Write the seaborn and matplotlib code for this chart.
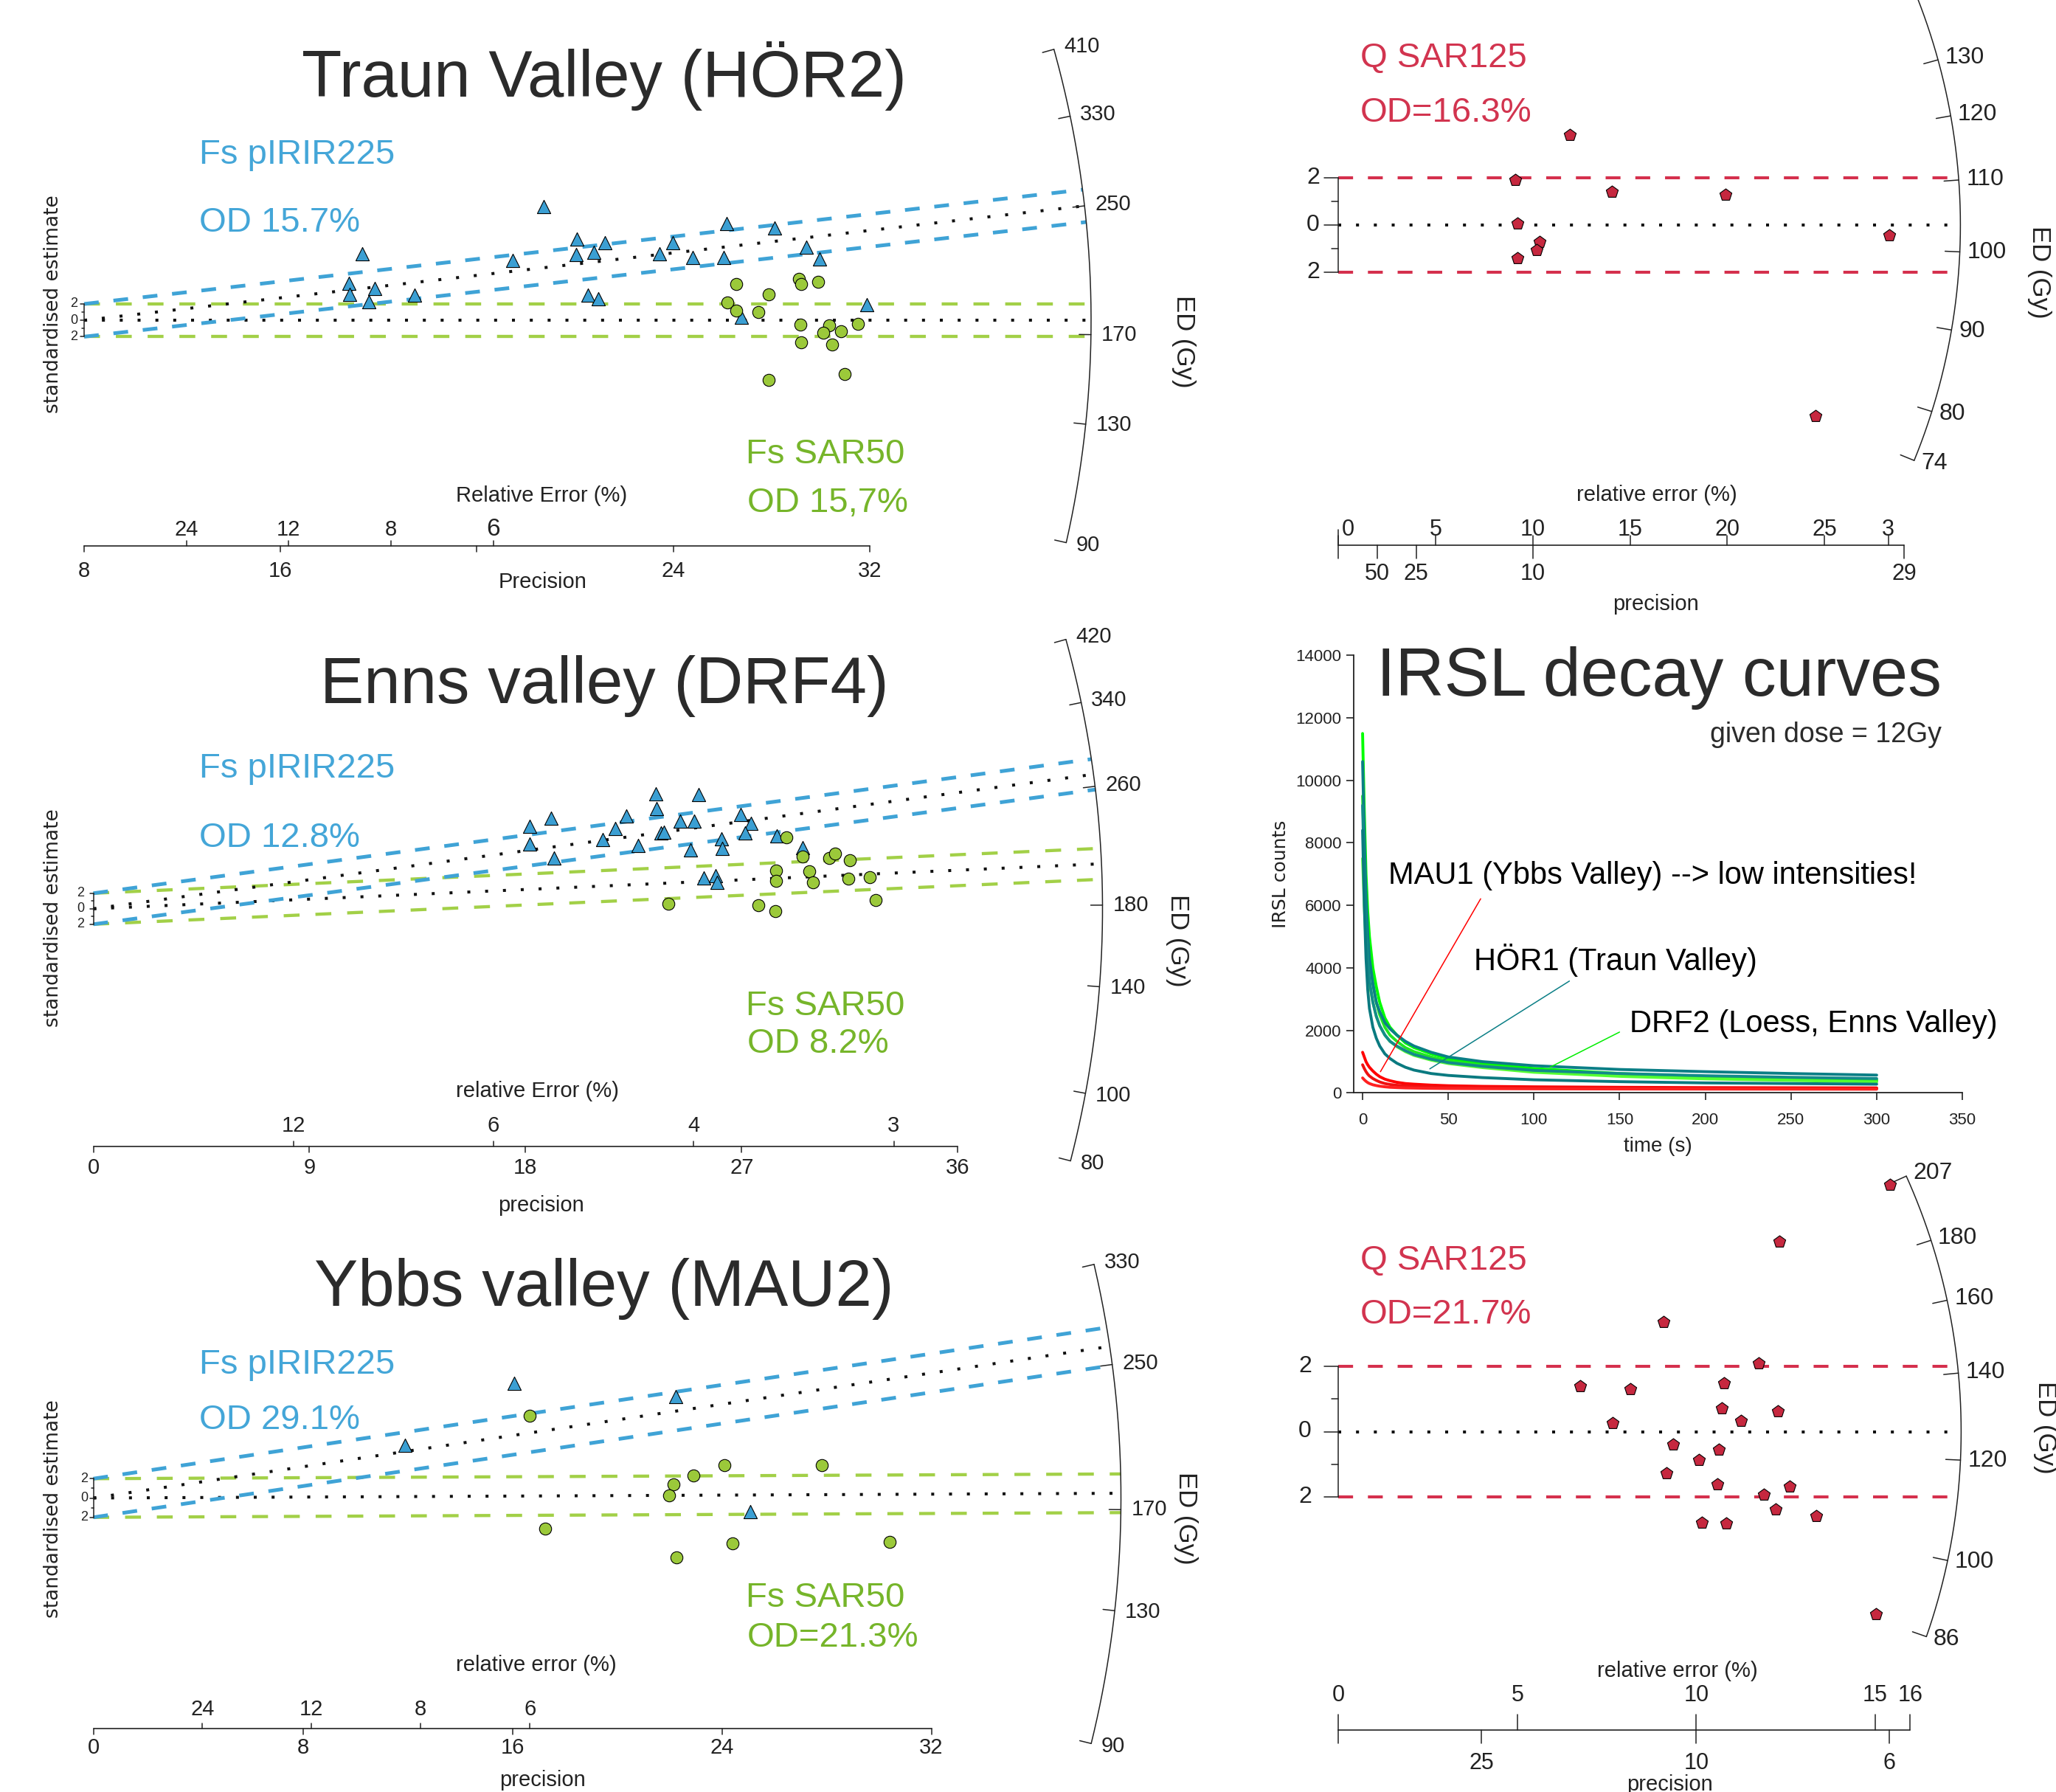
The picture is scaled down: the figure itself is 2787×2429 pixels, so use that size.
import numpy as np
import pandas as pd
import matplotlib.pyplot as plt
import seaborn as sns

sns.set_style('white')
plt.rcParams['font.family'] = ['Liberation Sans', 'DejaVu Sans']

# ------------------------------------------------------------------ data
# radial plots: x = precision, y = standardised estimate

# Traun Valley (HÖR2)
hor2_ir_prec = [18.71, 11.32, 26.18, 28.13, 20.08, 21.21, 23.99, 29.43, 17.47, 20.03, 20.75, 23.45,
                24.80, 26.06, 29.95, 10.80, 10.83, 11.84, 13.47, 11.60, 20.52, 20.95, 31.87, 26.78]
hor2_ir_z = [13.86, 8.17, 11.86, 11.27, 9.89, 9.45, 9.45, 8.97, 7.32, 8.00, 8.28, 8.17,
             7.72, 7.66, 7.48, 4.55, 3.18, 3.87, 3.10, 2.31, 3.10, 2.59, 1.90, 0.42]
hor2_sar_prec = [26.55, 29.11, 29.20, 29.89, 27.87, 26.21, 26.55, 27.45, 29.17, 30.35, 31.52, 30.11,
                 30.83, 29.22, 30.46, 27.87, 30.98]
hor2_sar_z = [4.45, 5.06, 4.45, 4.72, 3.18, 2.21, 1.21, 1.04, -0.55, -0.62, -0.45, -1.55,
              -1.30, -2.69, -2.93, -7.24, -6.59]
hor2_ed_ticks = [410, 330, 250, 170, 130, 90]
hor2_ed_ir, hor2_ed_sar = 250, 177.4

# Enns valley (DRF4)
enns_ir_prec = [23.42, 25.21, 23.45, 19.06, 22.20, 26.96, 18.18, 24.45, 25.02, 27.40, 21.73, 23.64, 23.76,
                27.15, 28.47, 18.18, 21.22, 22.70, 26.15, 26.18, 24.86, 29.53, 19.19, 25.43, 25.90, 25.99]
enns_ir_z = [14.85, 14.76, 12.93, 11.74, 12.00, 12.21, 10.60, 11.36, 11.36, 11.02, 10.38, 9.79, 9.91,
             9.79, 9.41, 8.39, 8.90, 8.13, 9.02, 7.83, 7.62, 7.91, 6.56, 4.01, 4.30, 3.37]
enns_sar_prec = [28.87, 29.53, 30.66, 30.88, 31.51, 28.43, 29.81, 28.43, 29.97, 31.44, 32.35, 23.95,
                 27.71, 28.40, 32.57]
enns_sar_z = [9.24, 6.72, 6.56, 7.11, 6.26, 4.98, 4.86, 3.62, 3.37, 3.88, 4.10, 0.69, 0.48, -0.29, 1.11]
enns_ed_ticks = [420, 340, 260, 180, 140, 100, 80]
enns_ed_ir, enns_ed_sar = 270, 204.4

# Ybbs valley (MAU2)
mau2_ir_prec = [16.07, 22.25, 11.90, 25.09]
mau2_ir_z = [11.89, 10.50, 5.44, -1.40]
mau2_sar_prec = [16.67, 24.09, 27.83, 22.91, 22.16, 21.99, 17.25, 24.41, 30.41, 22.28]
mau2_sar_z = [8.52, 3.43, 3.40, 2.34, 1.44, 0.25, -3.15, -4.67, -4.54, -6.16]
mau2_ed_ticks = [330, 250, 170, 130, 90]
mau2_ed_ir, mau2_ed_sar = 262.6, 177.5

# Q SAR125 (upper right)
qa_prec = [11.89, 9.10, 14.08, 19.92, 9.21, 28.34, 10.34, 10.19, 9.21, 24.53]
qa_z = [3.81, 1.92, 1.41, 1.29, 0.08, -0.42, -0.71, -1.05, -1.39, -8.08]
qa_ed_ticks = [130, 120, 110, 100, 90, 80, 74]

# Q SAR125 (lower right)
qb_prec = [15.41, 12.33, 9.08, 11.75, 6.75, 8.15, 10.78, 10.71, 12.29, 11.24, 7.66, 9.36, 10.64, 10.08,
           9.16, 10.58, 12.62, 11.89, 12.22, 13.35, 10.15, 10.84, 15.02]
qb_z = [7.58, 5.85, 3.36, 2.10, 1.39, 1.30, 1.49, 0.72, 0.63, 0.32, 0.26, -0.40, -0.55, -0.88,
        -1.28, -1.63, -1.68, -1.93, -2.39, -2.59, -2.80, -2.82, -5.61]
qb_ed_ticks = [207, 180, 160, 140, 120, 100, 86]

# IRSL decay curves
decay_time = [0, 1, 2, 3, 4, 6, 8, 10, 13, 16, 20, 25, 30, 40, 50, 70, 100, 150, 200, 250, 300]
drf2_a = [11500, 9000, 7000, 5800, 5000, 4000, 3400, 2900, 2400, 2100, 1850, 1600, 1450, 1250, 1100, 950, 780, 620, 520, 460, 420]
drf2_b = [9500, 7600, 6000, 5000, 4300, 3500, 2900, 2500, 2100, 1850, 1650, 1450, 1320, 1150, 1020, 880, 720, 580, 490, 430, 380]
drf2_c = [7500, 6000, 4800, 4000, 3500, 2900, 2450, 2150, 1850, 1650, 1480, 1320, 1200, 1050, 940, 810, 660, 530, 450, 400, 350]
hor1_a = [10600, 8200, 6300, 5100, 4300, 3500, 2900, 2600, 2250, 2050, 1850, 1650, 1500, 1300, 1150, 1000, 870, 750, 680, 620, 570]
hor1_b = [9200, 7000, 5300, 4300, 3600, 2900, 2450, 2150, 1850, 1650, 1500, 1350, 1230, 1080, 970, 850, 720, 620, 550, 500, 460]
hor1_c = [8400, 6000, 4300, 3300, 2700, 2100, 1750, 1500, 1250, 1100, 950, 820, 730, 620, 560, 490, 420, 360, 320, 300, 280]
mau1_a = [1300, 1150, 1000, 900, 820, 700, 600, 520, 440, 390, 340, 300, 280, 250, 230, 210, 195, 180, 170, 165, 160]
mau1_b = [900, 780, 680, 600, 540, 460, 400, 350, 300, 270, 245, 225, 210, 195, 185, 175, 165, 155, 150, 145, 140]
mau1_c = [480, 420, 370, 330, 300, 260, 235, 215, 195, 180, 170, 160, 155, 145, 140, 135, 130, 125, 122, 120, 118]

# ------------------------------------------------------------------ style
BLUE_L, BLUE_F, BLUE_T = '#3fa3d6', '#3b9fd3', '#44a6d8'
GREEN_L, GREEN_F, GREEN_T = '#a2d047', '#9bc93a', '#76b52a'
RED_L, RED_F, RED_T = '#d5304d', '#c6283f', '#d2344f'
INK = '#222222'
TITLE = '#2b2b2b'

W, H = 2787, 2429
fig = plt.figure(figsize=(W / 100, H / 100), dpi=100)


def ftext(x, y, s, **kw):
    fig.text(x / W, 1 - y / H, s, **kw)


class Radial:
    def __init__(self, box, origin, ux, uy, R, ed0):
        self.ox, self.oy = origin
        self.ux, self.uy, self.R, self.ed0 = ux, uy, R, ed0
        l, t, r, b = box
        self.ax = fig.add_axes([l / W, 1 - b / H, (r - l) / W, (b - t) / H])
        self.ax.set_xlim((l - self.ox) / ux, (r - self.ox) / ux)
        self.ax.set_ylim((self.oy - b) / uy, (self.oy - t) / uy)
        self.ax.axis('off')

    def xd(self, xpx):
        return (xpx - self.ox) / self.ux

    def yd(self, ypx):
        return (self.oy - ypx) / self.uy

    def theta(self, ed):
        return np.arctan2(np.log(ed / self.ed0) * self.uy, self.ux)

    def polar(self, th, r):
        return r * np.cos(th) / self.ux, r * np.sin(th) / self.uy

    def line(self, ed, off, **kw):
        m = np.log(ed / self.ed0)
        a = self.ux ** 2 + (self.uy * m) ** 2
        b = 2 * self.uy ** 2 * m * off
        c = (self.uy * off) ** 2 - self.R ** 2
        xe = (-b + np.sqrt(b * b - 4 * a * c)) / (2 * a)
        x = np.array([0, xe])
        self.ax.plot(x, m * x + off, **kw)

    def band(self, ed, color, lw, dashes):
        self.line(ed, 2, color=color, lw=lw, dashes=dashes, zorder=2)
        self.line(ed, -2, color=color, lw=lw, dashes=dashes, zorder=2)
        self.line(ed, 0, color='#111111', lw=2.9, ls=(0, (1, 5)), zorder=2)

    def arc(self, ticks, ed_lo, ed_hi, fs, tick_len=16, lab_off=14):
        th = np.linspace(self.theta(ed_lo), self.theta(ed_hi), 300)
        x, y = self.polar(th, self.R)
        self.ax.plot(x, y, color=INK, lw=1.1, clip_on=True)
        for e in ticks:
            t = self.theta(e)
            x0, y0 = self.polar(t, self.R)
            x1, y1 = self.polar(t, self.R - tick_len)
            self.ax.plot([x0, x1], [y0, y1], color=INK, lw=1.1)
            xl, yl = self.polar(t, self.R + lab_off)
            self.ax.text(xl, yl, str(e), ha='left', va='center', fontsize=fs, color=INK)

    def zaxis(self, labx, fs, major, minor):
        self.ax.plot([0, 0], [-2, 2], color=INK, lw=1.1)
        for v in [-2, -1, 0, 1, 2]:
            L = major if v % 2 == 0 else minor
            self.ax.plot([0, -L / self.ux], [v, v], color=INK, lw=1.1)
        for v in (2, 0, -2):
            self.ax.text(self.xd(labx), v, str(abs(v)), ha='center', va='center', fontsize=fs, color=INK)

    def xaxis(self, ypx, x_end, low_pos, low_lab, low_y, up_pos, up_lab, up_y, fs,
              low_len=8, up_len=7, up_fs=None):
        y = self.yd(ypx)
        self.ax.plot([0, x_end], [y, y], color=INK, lw=1.2)
        for p in low_pos:
            self.ax.plot([p, p], [y, y - low_len / self.uy], color=INK, lw=1.1)
        for p in up_pos:
            self.ax.plot([p, p], [y, y + up_len / self.uy], color=INK, lw=1.1)
        for p, s in zip(low_pos, low_lab):
            self.ax.text(p, self.yd(low_y), s, ha='center', va='center', fontsize=fs, color=INK)
        for i, (p, s) in enumerate(zip(up_pos, up_lab)):
            f = up_fs[i] if up_fs else fs
            self.ax.text(p, self.yd(up_y), s, ha='center', va='center', fontsize=f, color=INK)


def scatter(p, x, y, marker, color, s):
    sns.scatterplot(x=x, y=y, ax=p.ax, marker=marker, s=s, color=color,
                    edgecolor='black', linewidth=0.8, zorder=4, legend=False)
    p.ax.set_xlabel('')
    p.ax.set_ylabel('')


def fs_bands(p, ed_sar, ed_ir):
    p.band(ed_sar, GREEN_L, lw=3.1, dashes=(5, 5))
    p.band(ed_ir, BLUE_L, lw=3.6, dashes=(4, 4))


def left_labels(yc, title, title_y, ir_od, ir_y, sar_od, sar_y, ed_y, ed_x=1605):
    ftext(819, title_y, title, ha='center', va='center', fontsize=64, color=TITLE)
    ftext(270, ir_y[0], 'Fs pIRIR225', ha='left', va='center', fontsize=34, color=BLUE_T)
    ftext(270, ir_y[1], ir_od, ha='left', va='center', fontsize=34, color=BLUE_T)
    ftext(1011, sar_y[0], 'Fs SAR50', ha='left', va='center', fontsize=34, color=GREEN_T)
    ftext(1013, sar_y[1], sar_od, ha='left', va='center', fontsize=34, color=GREEN_T)
    ftext(72, yc, 'standardised estimate', rotation=90, ha='center', va='center',
          fontsize=19, family='DejaVu Sans', color=INK)
    ftext(ed_x, ed_y, 'ED (Gy)', rotation=-90, ha='center', va='center', fontsize=25, color=INK)


# ------------------------------------------------------------------ Traun Valley (HÖR2)
p1 = Radial((0, 0, 1700, 820), (114, 434.2), 33.28, 11.1, 1365, 177.4)
fs_bands(p1, hor2_ed_sar, hor2_ed_ir)
scatter(p1, hor2_ir_prec, hor2_ir_z, '^', BLUE_F, 170)
scatter(p1, hor2_sar_prec, hor2_sar_z, 'o', GREEN_F, 140)
p1.arc(hor2_ed_ticks, 90, 410, 21)
p1.zaxis(100, 13, 5, 3)
p1.xaxis(739.5, 32, [0, 8, 16, 24, 32], ['8', '16', '', '24', '32'], 774,
         [100 / 24, 100 / 12, 100 / 8, 100 / 6], ['24', '12', '8', '6'], 718, 21,
         up_fs=[21, 21, 21, 24])
ftext(734, 672, 'Relative Error (%)', ha='center', va='center', fontsize=21, color=INK)
ftext(736, 789, 'Precision', ha='center', va='center', fontsize=21, color=INK)
left_labels(412, 'Traun Valley (HÖR2)', 103, 'OD 15.7%', (210, 302), 'OD 15,7%', (616, 682), 463)

# ------------------------------------------------------------------ Enns valley (DRF4)
p2 = Radial((0, 820, 1700, 1660), (126.5, 1231.8), 32.55, 10.5, 1368, 178)
fs_bands(p2, enns_ed_sar, enns_ed_ir)
scatter(p2, enns_ir_prec, enns_ir_z, '^', BLUE_F, 170)
scatter(p2, enns_sar_prec, enns_sar_z, 'o', GREEN_F, 140)
p2.arc(enns_ed_ticks, 80, 420, 21)
p2.zaxis(109, 13, 5, 3)
p2.xaxis(1553.6, 36, [0, 9, 18, 27, 36], ['0', '9', '18', '27', '36'], 1583,
         [100 / 12, 100 / 6, 100 / 4, 100 / 3], ['12', '6', '4', '3'], 1526, 21)
ftext(728, 1479, 'relative Error (%)', ha='center', va='center', fontsize=21, color=INK)
ftext(733, 1634, 'precision', ha='center', va='center', fontsize=21, color=INK)
left_labels(1244, 'Enns valley (DRF4)', 930, 'OD 12.8%', (1042, 1136), 'OD 8.2%', (1364, 1415), 1275,
            ed_x=1597)

# ------------------------------------------------------------------ Ybbs valley (MAU2)
p3 = Radial((0, 1660, 1700, 2429), (126.5, 2030.5), 35.5, 13.1, 1393, 175.3)
fs_bands(p3, mau2_ed_sar, mau2_ed_ir)
scatter(p3, mau2_ir_prec, mau2_ir_z, '^', BLUE_F, 170)
scatter(p3, mau2_sar_prec, mau2_sar_z, 'o', GREEN_F, 140)
p3.arc(mau2_ed_ticks, 90, 330, 21)
p3.zaxis(114, 13, 5, 3)
p3.xaxis(2342.5, 32, [0, 8, 16, 24, 32], ['0', '8', '16', '24', '32'], 2369,
         [100 / 24, 100 / 12, 100 / 8, 100 / 6], ['24', '12', '8', '6'], 2317, 21)
ftext(727, 2257, 'relative error (%)', ha='center', va='center', fontsize=21, color=INK)
ftext(735, 2413, 'precision', ha='center', va='center', fontsize=21, color=INK)
left_labels(2045, 'Ybbs valley (MAU2)', 1747, 'OD 29.1%', (1850, 1925), 'OD=21.3%', (2166, 2220), 2058,
            ed_x=1607)

# ------------------------------------------------------------------ Q SAR125 (top right)
p4 = Radial((1700, 0, 2787, 850), (1814.4, 305.2), 26.34, 32.0, 843, 103.6)
p4.band(103.6, RED_L, lw=2.9, dashes=(5, 5))
scatter(p4, qa_prec, qa_z, 'p', RED_F, 150)
p4.arc(qa_ed_ticks, 74, 170, 23, tick_len=20, lab_off=10)
p4.zaxis(1780, 23, 19, 9)
p4.xaxis(738.9, 29.1, [0, 2, 4, 10, 29.1], ['', '50', '25', '10', '29'], 778,
         [0, 5, 10, 15, 20, 25, 28.3], ['', '5', '10', '15', '20', '25', '3'], 718, 22,
         low_len=18, up_len=13)
p4.ax.text(0.5, p4.yd(718), '0', ha='center', va='center', fontsize=22, color=INK)
p4.ax.plot([0, 0], [p4.yd(738.9), p4.yd(718)], color=INK, lw=1.1)
ftext(2246, 671, 'relative error (%)', ha='center', va='center', fontsize=21, color=INK)
ftext(2244, 819, 'precision', ha='center', va='center', fontsize=21, color=INK)
ftext(1844, 79, 'Q SAR125', ha='left', va='center', fontsize=34, color=RED_T)
ftext(1844, 153, 'OD=16.3%', ha='left', va='center', fontsize=34, color=RED_T)
ftext(2764, 369, 'ED (Gy)', rotation=-90, ha='center', va='center', fontsize=25, color=INK)

# ------------------------------------------------------------------ Q SAR125 (bottom right)
p6 = Radial((1700, 1560, 2787, 2429), (1814.4, 1940.5), 48.5, 44.1, 844, 126.2)
p6.band(126.2, RED_L, lw=2.9, dashes=(5, 5))
scatter(p6, qb_prec, qb_z, 'p', RED_F, 150)
p6.arc(qb_ed_ticks, 86, 207, 23, tick_len=20, lab_off=10)
p6.zaxis(1769, 23, 19, 9)
p6.xaxis(2344.5, 15.98, [0, 4, 10, 15.4], ['', '25', '10', '6'], 2390,
         [0, 5, 10, 15, 15.98], ['0', '5', '10', '15', '16'], 2298, 22,
         low_len=18, up_len=21)
ftext(2274, 2265, 'relative error (%)', ha='center', va='center', fontsize=21, color=INK)
ftext(2263, 2419, 'precision', ha='center', va='center', fontsize=21, color=INK)
ftext(1844, 1709, 'Q SAR125', ha='left', va='center', fontsize=34, color=RED_T)
ftext(1844, 1782, 'OD=21.7%', ha='left', va='center', fontsize=34, color=RED_T)
ftext(2772, 1935, 'ED (Gy)', rotation=-90, ha='center', va='center', fontsize=25, color=INK)

# ------------------------------------------------------------------ IRSL decay curves
curves = {
    'DRF2 a': (drf2_a, '#00ff00'), 'DRF2 b': (drf2_b, '#22e622'), 'DRF2 c': (drf2_c, '#55ff33'),
    'HÖR1 a': (hor1_a, '#0b7f86'), 'HÖR1 b': (hor1_b, '#138a8a'), 'HÖR1 c': (hor1_c, '#0a7a80'),
    'MAU1 a': (mau1_a, '#ff0000'), 'MAU1 b': (mau1_b, '#ee1111'), 'MAU1 c': (mau1_c, '#ff2020'),
}
df = pd.DataFrame([(name, t, v) for name, (vals, _) in curves.items()
                   for t, v in zip(decay_time, vals)], columns=['curve', 'time', 'counts'])
x0, x1, y0, y1 = 1835.2, 2660.1, 888.3, 1481.4
ax5 = fig.add_axes([x0 / W, 1 - y1 / H, (x1 - x0) / W, (y1 - y0) / H])
sns.lineplot(data=df, x='time', y='counts', hue='curve', palette={k: c for k, (_, c) in curves.items()},
             estimator=None, sort=False, lw=2.8, legend=False, ax=ax5)
ax5.set_xlim(-5.1, 350)
ax5.set_ylim(0, 14000)
ax5.set_xticks(range(0, 351, 50))
ax5.set_yticks(range(0, 14001, 2000))
for s in ('top', 'right'):
    ax5.spines[s].set_visible(False)
for s in ('left', 'bottom'):
    ax5.spines[s].set_color(INK)
    ax5.spines[s].set_linewidth(1.3)
ax5.tick_params(direction='out', length=7, width=1.2, colors=INK, labelsize=16, bottom=True, left=True)
ax5.tick_params(axis='x', pad=12)
ax5.tick_params(axis='y', pad=5)
ax5.set_xlabel('time (s)', fontsize=20, color=INK, labelpad=9)
ax5.set_ylabel('IRSL counts', fontsize=18, color=INK, family='DejaVu Sans', labelpad=6)
ax5.patch.set_alpha(0)
ax5.annotate('', xy=(9.8, 621), xytext=(69.5, 6268), arrowprops=dict(arrowstyle='-', color='#ff0000', lw=1.1))
ax5.annotate('', xy=(38.2, 734), xytext=(121.7, 3614), arrowprops=dict(arrowstyle='-', color='#0b7f86', lw=1.1))
ax5.annotate('', xy=(108.3, 791), xytext=(151, 1976), arrowprops=dict(arrowstyle='-', color='#00ee00', lw=1.1))
ftext(1866, 919, 'IRSL decay curves', ha='left', va='center', fontsize=66, color=TITLE)
ftext(2318, 996, 'given dose = 12Gy', ha='left', va='center', fontsize=27, color=TITLE)
ftext(1882, 1187, 'MAU1 (Ybbs Valley) --> low intensities!', ha='left', va='center', fontsize=30, color='black')
ftext(1998, 1302, 'HÖR1 (Traun Valley)', ha='left', va='center', fontsize=30, color='black')
ftext(2209, 1388, 'DRF2 (Loess, Enns Valley)', ha='left', va='center', fontsize=30, color='black')

fig.savefig('out.png', dpi=100, facecolor='white')
